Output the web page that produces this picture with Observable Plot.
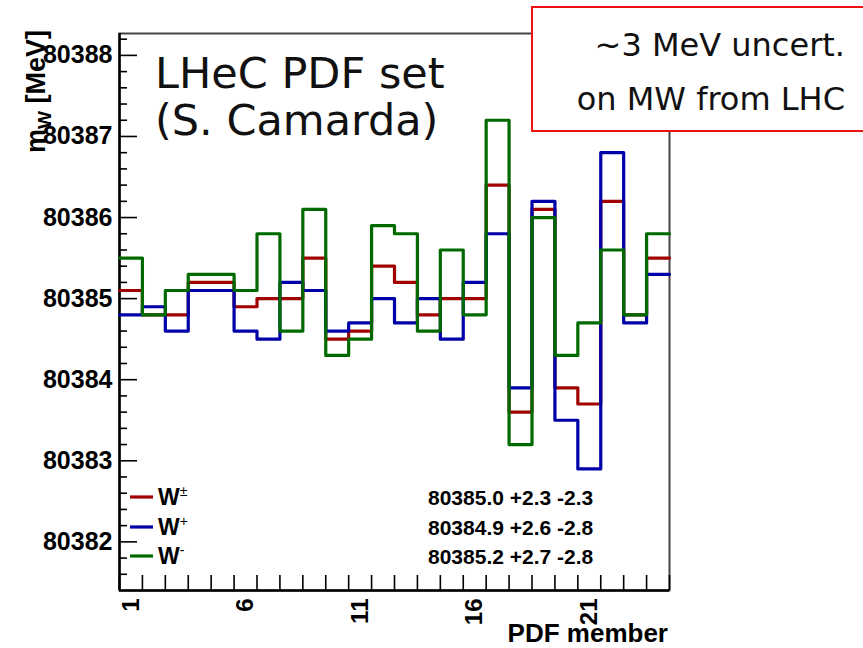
<!DOCTYPE html>
<html><head><meta charset="utf-8">
<script src="https://cdn.jsdelivr.net/npm/d3@7"></script>
<script src="https://cdn.jsdelivr.net/npm/@observablehq/plot@0.6"></script>
<style>
body{margin:0;background:#fff}
#chart{width:863px;height:648px}
</style>
</head><body><div id="chart"></div>
<script>
// ---- data ----
const members = d3.range(1, 25); // PDF members 1..24
const seriesNames = ["W±", "W+", "W-"];
const seriesColors = ["#a00000", "#0000a8", "#006a00"];
const wPlusMinus = [80385.1, 80384.8, 80384.8, 80385.2, 80385.2, 80384.9, 80385.0, 80385.0, 80385.5, 80384.5, 80384.6, 80385.4, 80385.2, 80384.8, 80385.0, 80385.0, 80386.4, 80383.6, 80386.1, 80383.9, 80383.7, 80386.2, 80384.8, 80385.5];
const wPlus      = [80384.8, 80384.9, 80384.6, 80385.1, 80385.1, 80384.6, 80384.5, 80385.2, 80385.1, 80384.6, 80384.7, 80385.0, 80384.7, 80385.0, 80384.5, 80385.2, 80385.8, 80383.9, 80386.2, 80383.5, 80382.9, 80386.8, 80384.7, 80385.3];
const wMinus     = [80385.5, 80384.8, 80385.1, 80385.3, 80385.3, 80385.1, 80385.8, 80384.6, 80386.1, 80384.3, 80384.5, 80385.9, 80385.8, 80384.6, 80385.6, 80384.8, 80387.2, 80383.2, 80386.0, 80384.3, 80384.7, 80385.6, 80384.8, 80385.8];
const summaryLines = ["80385.0 +2.3 -2.3", "80384.9 +2.6 -2.8", "80385.2 +2.7 -2.8"];
const yTickLabels = [80382, 80383, 80384, 80385, 80386, 80387, 80388];
const xTickLabels = [1, 6, 11, 16, 21];
const titleLines = ["LHeC PDF set", "(S. Camarda)"];
const noteLines = ["~3 MeV uncert.", "on MW from LHC"];

// ---- build step rows (bin edges) ----
const seriesValues = [wPlusMinus, wPlus, wMinus];
const rows = [];
seriesValues.forEach((vals, s) => {
  members.forEach((m, i) => rows.push({series: seriesNames[s], x: m - 0.5, y: vals[i]}));
  rows.push({series: seriesNames[s], x: members[members.length - 1] + 0.5, y: vals[vals.length - 1]});
});
const xEdges = [...members.map(m => m - 0.5), members[members.length - 1] + 0.5];
const yMinor = d3.range(0, 36).map(i => +(80381.4 + i * 0.2).toFixed(1)).filter(v => v > 80381.4 && v < 80388.27 && !Number.isInteger(v));

const yDomain = [80381.4, 80388.27];
const xDomain = [0.5, 24.5];

const plot = Plot.plot({
  width: 863, height: 648,
  marginLeft: 119, marginRight: 194, marginTop: 33, marginBottom: 58,
  x: {domain: xDomain, label: null},
  y: {domain: yDomain, label: null},
  color: {domain: seriesNames, range: seriesColors},
  style: {fontFamily: "'Liberation Sans', Arial, sans-serif", background: "white", overflow: "visible", color: "#000"},
  marks: [
    Plot.frame({stroke: "#444", strokeWidth: 2}),
    Plot.axisY(yMinor, {tickSize: -8, tickFormat: () => "", strokeWidth: 1.6, stroke: "#000"}),
    Plot.axisY(yTickLabels, {tickSize: -18, tickFormat: () => "", strokeWidth: 1.6, stroke: "#000"}),
    Plot.axisY(yTickLabels, {tickSize: 0, tickPadding: 7, tickFormat: d => String(d), fontSize: 25, fontWeight: "bold", fill: "#000"}),
    Plot.axisX(xEdges, {tickSize: -15, tickFormat: () => "", strokeWidth: 1.6, stroke: "#000"}),
    Plot.axisX(xTickLabels, {tickSize: 0, tickPadding: 8, tickRotate: -90, textAnchor: "end", fontSize: 24, fontWeight: "bold", fill: "#000"}),
    Plot.ruleX([xDomain[0]], {stroke: "#000", strokeWidth: 2.5}),
    Plot.ruleY([yDomain[0]], {stroke: "#000", strokeWidth: 2.5}),
    Plot.line(rows, {x: "x", y: "y", z: "series", stroke: "series", curve: "step-after", strokeWidth: 3.2})
  ]
});
document.getElementById("chart").appendChild(plot);

// ---- annotations ----
const svg = d3.select(plot);
const font = "'Liberation Sans', Arial, sans-serif";

// y axis title
const yl = svg.append("text")
  .attr("transform", "translate(45,30) rotate(-90)")
  .attr("text-anchor", "end")
  .attr("font-family", font).attr("font-weight", "bold").attr("font-size", 27).attr("fill", "#000");
yl.append("tspan").text("m");
yl.append("tspan").attr("font-size", 19).attr("dy", 6).text("W");
yl.append("tspan").attr("dy", -6).text(" [MeV]");

// x axis title
svg.append("text").attr("x", 668).attr("y", 642).attr("text-anchor", "end")
  .attr("font-family", font).attr("font-weight", "bold").attr("font-size", 26).attr("fill", "#000")
  .text("PDF member");

// title
svg.selectAll("text.title").data(titleLines).join("text").attr("class", "title")
  .attr("x", 155).attr("y", (d, i) => 88 + i * 47).attr("text-anchor", "start")
  .attr("font-family", "'DejaVu Sans', sans-serif").attr("font-size", 43).attr("fill", "#111")
  .text(d => d);

// legend
const legY = [497, 527, 556];
const legSup = ["±", "+", "-"];
seriesNames.forEach((name, i) => {
  svg.append("line").attr("x1", 130).attr("x2", 153).attr("y1", legY[i]).attr("y2", legY[i])
    .attr("stroke", seriesColors[i]).attr("stroke-width", 3.2);
  const t = svg.append("text").attr("x", 158).attr("y", legY[i] + 8).attr("text-anchor", "start")
    .attr("font-family", font).attr("font-weight", "bold").attr("font-size", 23).attr("fill", "#000");
  t.append("tspan").text("W");
  t.append("tspan").attr("font-size", 14).attr("font-weight", "normal").attr("dy", -9).text(legSup[i]);
});

// summary numbers
svg.selectAll("text.sum").data(summaryLines).join("text").attr("class", "sum")
  .attr("x", 428).attr("y", (d, i) => legY[i] + 8).attr("text-anchor", "start")
  .attr("font-family", font).attr("font-weight", "bold").attr("font-size", 21).attr("fill", "#000")
  .text(d => d);

// red note box
svg.append("rect").attr("x", 532).attr("y", 7).attr("width", 345).attr("height", 124)
  .attr("fill", "#fff").attr("stroke", "#ee1111").attr("stroke-width", 2);
svg.selectAll("text.note").data(noteLines).join("text").attr("class", "note")
  .attr("x", 845).attr("y", (d, i) => 56 + i * 54).attr("text-anchor", "end")
  .attr("font-family", "'DejaVu Sans', sans-serif").attr("font-size", 32).attr("fill", "#111")
  .text(d => d);
</script>
</body></html>
